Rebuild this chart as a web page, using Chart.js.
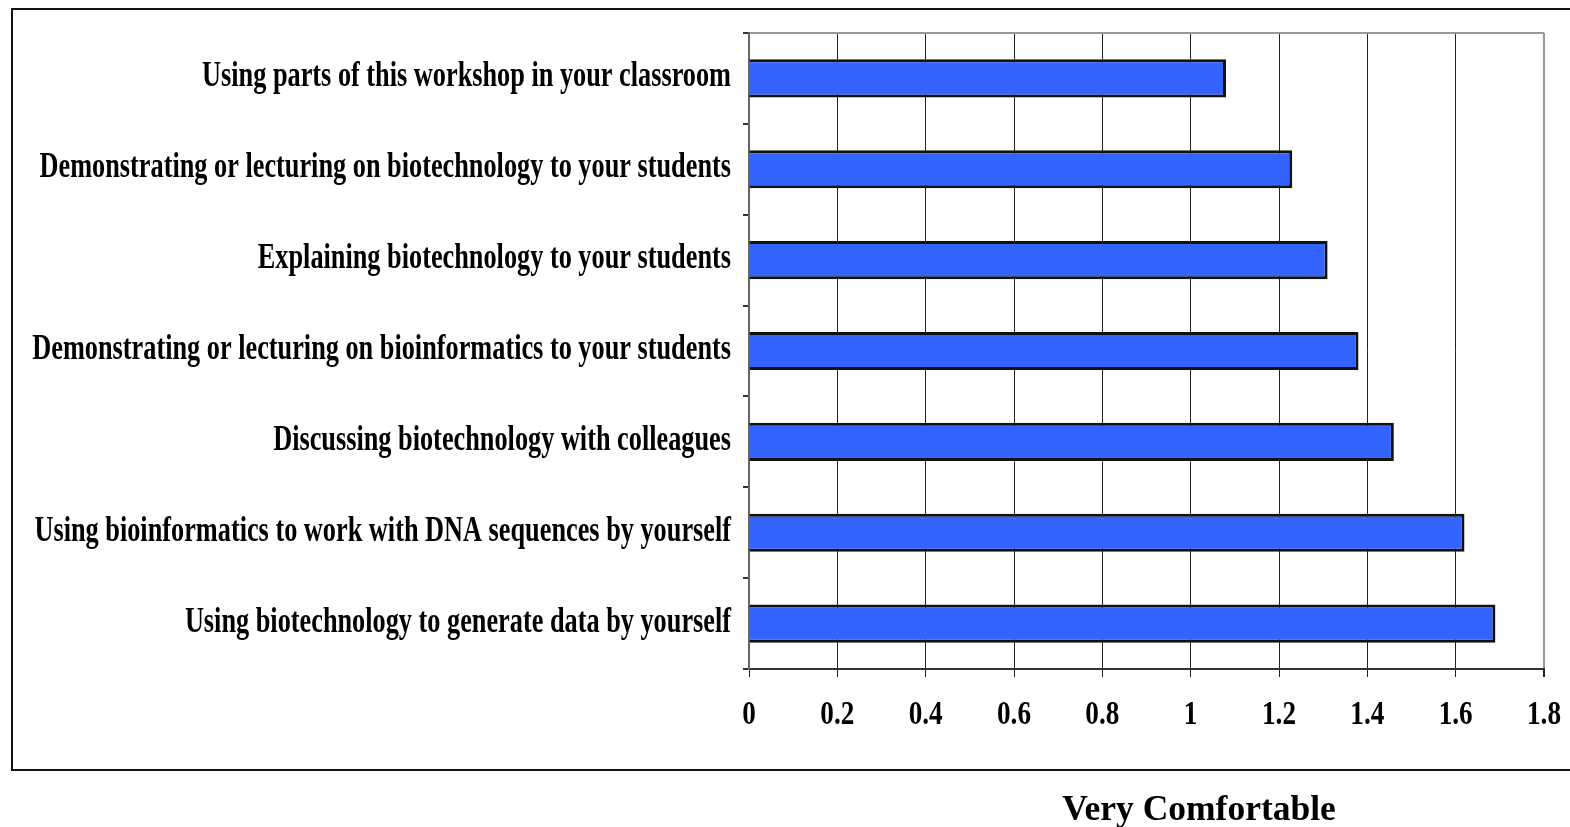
<!DOCTYPE html>
<html>
<head>
<meta charset="utf-8">
<script src="https://cdn.jsdelivr.net/npm/chart.js@4.4.0/dist/chart.umd.min.js"></script>
<style>
  body { margin: 0; background: #fff; overflow: hidden; }
  #wrap { position: relative; width: 1570px; height: 827px; }
  #frame {
    position: absolute; left: 11px; top: 8px; width: 1600px; height: 759px;
    border: 2px solid #111; border-right: none;
  }
  #chartBox { position: absolute; left: 0; top: 0; width: 1570px; height: 827px; }
  #xTitle {
    position: absolute; left: 1199px; top: 791px; transform: translateX(-50%);
    font: bold 35.5px "Liberation Serif", "Times New Roman", serif; line-height: 35px;
    white-space: nowrap; color: #000;
  }
</style>
</head>
<body>
<div id="wrap">
  <div id="frame"></div>
  <div id="chartBox"><canvas id="chart"></canvas></div>
  <div id="xTitle">Very Comfortable</div>
</div>
<script>
const categories = [
  'Using parts of this workshop in your classroom',
  'Demonstrating or lecturing on biotechnology to your students',
  'Explaining biotechnology to your students',
  'Demonstrating or lecturing on bioinformatics to your students',
  'Discussing biotechnology with colleagues',
  'Using bioinformatics to work with DNA sequences by yourself',
  'Using biotechnology to generate data by yourself'
];
const comfortValues = [1.08, 1.23, 1.31, 1.38, 1.46, 1.62, 1.69];
const xTickLabels = ['0', '0.2', '0.4', '0.6', '0.8', '1', '1.2', '1.4', '1.6', '1.8'];

// labels in the original are a squeezed bold serif, so draw them condensed
const condensedLabels = {
  id: 'condensedLabels',
  afterDraw(chart) {
    const ctx = chart.ctx;
    const x = chart.scales.x, y = chart.scales.y;
    ctx.save();
    ctx.fillStyle = '#000';

    ctx.font = 'bold 35px "Liberation Serif"';
    ctx.textAlign = 'right';
    ctx.textBaseline = 'alphabetic';
    categories.forEach((label, i) => {
      const py = y.getPixelForTick(i) + 8;
      ctx.save();
      ctx.translate(y.right - 18, py);
      ctx.scale(0.751, 1);
      ctx.fillText(label, 0, 0);
      ctx.restore();
    });

    ctx.font = 'bold 34px "Liberation Serif"';
    ctx.textAlign = 'center';
    xTickLabels.forEach(label => {
      const px = x.getPixelForValue(Number(label));
      ctx.save();
      ctx.translate(px, x.top + 55);
      ctx.scale(0.8, 1);
      ctx.fillText(label, 0, 0);
      ctx.restore();
    });
    ctx.restore();
  }
};

new Chart(document.getElementById('chart'), {
  type: 'bar',
  data: {
    labels: categories,
    datasets: [{
      data: comfortValues,
      backgroundColor: '#3464fe',
      borderColor: '#111',
      borderWidth: 3,
      barPercentage: 0.42,
      categoryPercentage: 1
    }]
  },
  options: {
    indexAxis: 'y',
    responsive: true,
    maintainAspectRatio: false,
    animation: false,
    layout: { padding: { left: 0, right: 26, top: 33, bottom: 58 } },
    plugins: {
      legend: { display: false },
      tooltip: { enabled: false }
    },
    scales: {
      x: {
        min: 0,
        max: 1.8,
        ticks: { display: false, stepSize: 0.2 },
        grid: {
          color: c => c.index === 9 ? '#999' : '#222',
          lineWidth: c => c.index === 9 ? 2 : 1,
          tickColor: '#222',
          tickLength: 8
        },
        border: { color: '#333', width: 2 },
        afterFit: s => { s.height = 100; }
      },
      y: {
        ticks: { display: false },
        grid: {
          color: c => c.index === 0 ? '#999' : 'rgba(0,0,0,0)',
          lineWidth: 2,
          tickColor: '#333',
          tickLength: 6
        },
        border: { color: '#666', width: 2 },
        afterFit: s => { s.width = 749; }
      }
    }
  },
  plugins: [condensedLabels]
});
</script>
</body>
</html>
